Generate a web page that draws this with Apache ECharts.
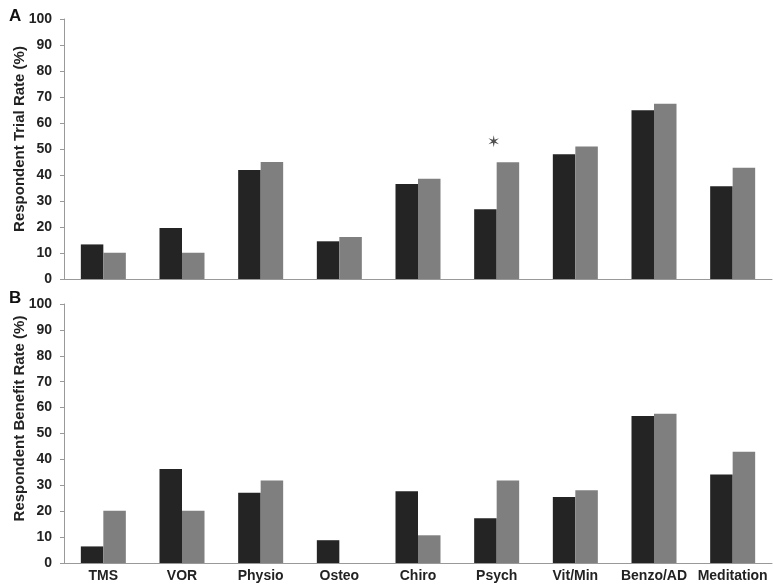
<!DOCTYPE html>
<html>
<head>
<meta charset="utf-8">
<script src="https://cdn.jsdelivr.net/npm/echarts@6/dist/echarts.min.js"></script>
<style>html,body{margin:0;padding:0;background:#fff;}#c{width:773px;height:586px;}</style>
</head>
<body>
<div id="c"></div>
<script>
var categories = ['TMS','VOR','Physio','Osteo','Chiro','Psych','Vit/Min','Benzo/AD','Meditation'];
var trialDark  = [13.3, 19.6, 41.9, 14.5, 36.5, 26.8, 48.0, 64.9, 35.7];
var trialGray  = [10.1, 10.1, 45.0, 16.2, 38.6, 44.9, 51.0, 67.4, 42.8];
var benefitDark = [6.4, 36.3, 27.1, 8.8, 27.7, 17.3, 25.5, 56.8, 34.2];
var benefitGray = [20.2, 20.2, 31.9, 0, 10.7, 31.9, 28.1, 57.6, 43.0];
var yTicks = [0,10,20,30,40,50,60,70,80,90,100];
var starPoint = ['Psych', 52.6];

var chart = echarts.init(document.getElementById('c'));
var labelFont = {fontFamily:'Liberation Sans, Arial, sans-serif', fontWeight:'bold', color:'#222'};
function yAxis(idx, name, pad){
  return {
    gridIndex: idx, type:'value', min:yTicks[0], max:yTicks[yTicks.length-1], interval:10,
    name: name, nameLocation:'middle', nameGap:37, nameMoveOverlap:false,
    nameTextStyle:{fontFamily:'Liberation Sans, Arial, sans-serif', fontWeight:'bold', fontSize:15, color:'#222', padding:[0,0,0,pad]},
    axisLine:{show:true, lineStyle:{color:'#999', width:1}},
    axisTick:{show:true, length:4, lineStyle:{color:'#999'}},
    axisLabel:Object.assign({fontSize:14, margin:12}, labelFont),
    splitLine:{show:false}
  };
}
function xAxis(idx, showLabels){
  return {
    gridIndex: idx, type:'category', data:categories,
    axisLine:{show:true, lineStyle:{color:'#999', width:1}},
    axisTick:{show:false},
    axisLabel:Object.assign({show:showLabels, fontSize:14, margin:6, interval:0}, labelFont)
  };
}
function bar(idx, data, color){
  return {type:'bar', xAxisIndex:idx, yAxisIndex:idx, data:data, barWidth:22.5, barGap:'0%',
    itemStyle:{color:color}, silent:true};
}
chart.setOption({
  animation:false,
  backgroundColor:'#fff',
  grid:[
    {left:64, top:19, width:708, height:260, containLabel:false, outerBoundsMode:'none'},
    {left:64, top:304, width:708, height:259, containLabel:false, outerBoundsMode:'none'}
  ],
  xAxis:[xAxis(0,false), xAxis(1,true)],
  yAxis:[yAxis(0,'Respondent Trial Rate (%)', 20), yAxis(1,'Respondent Benefit Rate (%)', 30)],
  series:[
    bar(0, trialDark, '#242424'),
    bar(0, trialGray, '#7f7f7f'),
    bar(1, benefitDark, '#242424'),
    bar(1, benefitGray, '#7f7f7f'),
    {type:'scatter', xAxisIndex:0, yAxisIndex:0, data:[starPoint], symbolSize:0,
     label:{show:true, position:'inside', formatter:'\u2736', fontSize:16, color:'#222', offset:[-3,0]}}
  ],
  graphic:[
    {type:'text', left:9, top:8, style:{text:'A', font:'bold 17px Liberation Sans, Arial, sans-serif', fill:'#111'}},
    {type:'text', left:9, top:290, style:{text:'B', font:'bold 17px Liberation Sans, Arial, sans-serif', fill:'#111'}}
  ]
});
</script>
</body>
</html>
